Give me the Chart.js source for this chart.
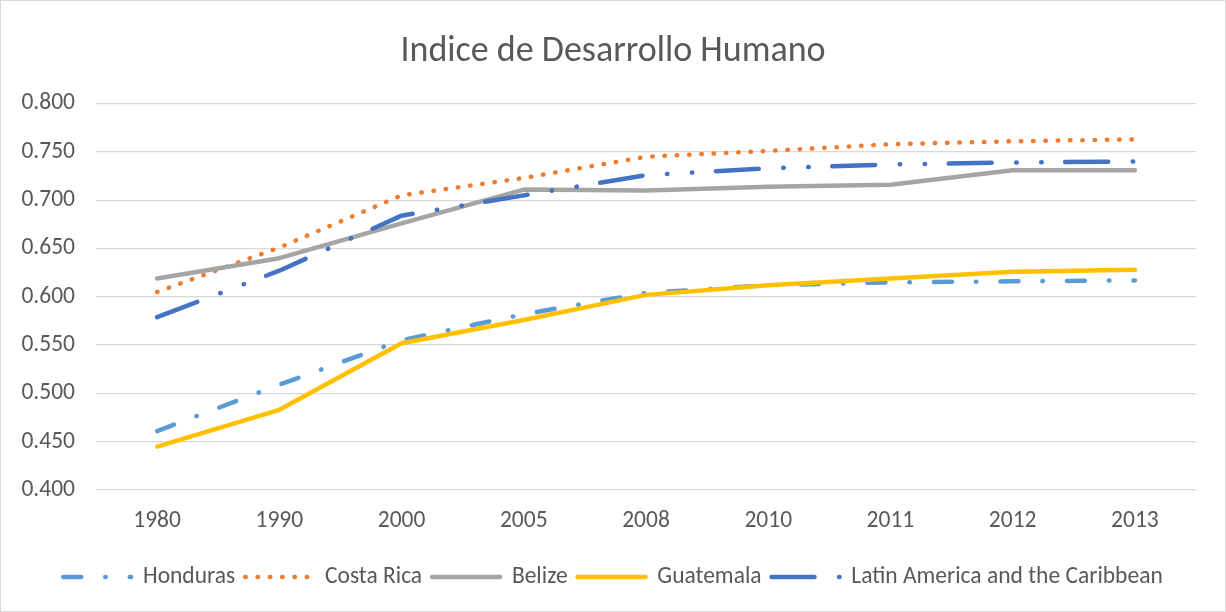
<!DOCTYPE html>
<html>
<head>
<meta charset="utf-8">
<script src="https://cdn.jsdelivr.net/npm/chart.js@4/dist/chart.umd.min.js"></script>
<style>
  html, body { margin: 0; padding: 0; background: #fff; }
  #wrap { width: 1226px; height: 612px; }
</style>
</head>
<body>
<div id="wrap"><canvas id="hdi" width="1226" height="612"></canvas></div>
<script>
const years = ['1980', '1990', '2000', '2005', '2008', '2010', '2011', '2012', '2013']

const honduras = [0.461, 0.509, 0.555, 0.582, 0.604, 0.612, 0.615, 0.616, 0.617]
const costaRica = [0.605, 0.651, 0.705, 0.723, 0.745, 0.751, 0.758, 0.761, 0.763]
const belize = [0.619, 0.640, 0.676, 0.711, 0.710, 0.714, 0.716, 0.731, 0.731]
const guatemala = [0.445, 0.483, 0.552, 0.576, 0.602, 0.612, 0.619, 0.626, 0.628]
const latinAmerica = [0.579, 0.627, 0.684, 0.705, 0.726, 0.733, 0.737, 0.739, 0.740]

const textColor = '#595959'
const gridColor = '#D9D9D9'
const fontFamily = "Carlito, Calibri, Lato, 'Open Sans', sans-serif"

const chartBorder = {
  id: 'chartBorder',
  beforeDraw(chart) {
    const ctx = chart.ctx
    ctx.save()
    ctx.strokeStyle = gridColor
    ctx.lineWidth = 1
    ctx.strokeRect(0.5, 0.5, chart.width - 1, chart.height - 1)
    ctx.restore()
  }
}

function series(label, data, color, dash, order) {
  return {
    label: label,
    data: data,
    borderColor: color,
    backgroundColor: color,
    borderWidth: 4.5,
    borderDash: dash,
    borderCapStyle: 'round',
    borderJoinStyle: 'round',
    pointRadius: 0,
    pointHoverRadius: 0,
    tension: 0,
    fill: false,
    order: order
  }
}

// legend samples take the dash of the line, not of the point
function legendLabels(chart) {
  const items = Chart.defaults.plugins.legend.labels.generateLabels(chart)
  return items.map(item => {
    const ds = chart.data.datasets[item.datasetIndex]
    item.lineDash = ds.borderDash
    item.lineWidth = ds.borderWidth
    item.lineCap = 'round'
    item.strokeStyle = ds.borderColor
    item.fillStyle = ds.borderColor
    return item
  })
}

new Chart(document.getElementById('hdi'), {
  type: 'line',
  data: {
    labels: years,
    datasets: [
      series('Honduras', honduras, '#5B9BD5', [18, 24, 0.5, 24], 5),
      series('Costa Rica', costaRica, '#ED7D31', [0.5, 11.8], 4),
      series('Belize', belize, '#A5A5A5', [], 3),
      series('Guatemala', guatemala, '#FFC000', [], 2),
      series('Latin America and the Caribbean', latinAmerica, '#4472C4', [43, 24.5, 0.5, 24.5, 0.5, 23.5], 1)
    ]
  },
  options: {
    responsive: false,
    animation: false,
    layout: {
      padding: {top: 10, right: 0, bottom: 13.25, left: 0}
    },
    plugins: {
      title: {
        display: true,
        text: 'Indice de Desarrollo Humano',
        color: textColor,
        font: {family: fontFamily, size: 36, weight: 'normal'},
        padding: {top: 20.4, bottom: 30}
      },
      legend: {
        position: 'bottom',
        labels: {
          usePointStyle: true,
          pointStyle: 'line',
          pointStyleWidth: 68,
          color: textColor,
          font: {family: fontFamily, size: 23.5},
          padding: 10,
          generateLabels: legendLabels,
          sort: (a, b) => a.datasetIndex - b.datasetIndex
        }
      },
      tooltip: {enabled: false}
    },
    scales: {
      x: {
        offset: true,
        grid: {display: false, drawTicks: false},
        border: {display: false},
        ticks: {
          color: textColor,
          font: {family: fontFamily, size: 23.5},
          padding: 17,
          maxRotation: 0
        },
        afterFit(scale) { scale.height = 65.25 }
      },
      y: {
        min: 0.4,
        max: 0.8,
        grid: {color: gridColor, lineWidth: 1.3, drawTicks: false},
        border: {display: false},
        ticks: {
          stepSize: 0.05,
          color: textColor,
          font: {family: fontFamily, size: 23.5},
          padding: 21,
          callback: value => value.toFixed(3)
        },
        afterFit(scale) { scale.width = 96 }
      },
      // empty right margin so title and legend stay centred on the page
      yRight: {
        type: 'linear',
        position: 'right',
        min: 0.4,
        max: 0.8,
        grid: {display: false, drawTicks: false},
        border: {display: false},
        ticks: {display: false},
        afterFit(scale) { scale.width = 30 }
      }
    }
  },
  plugins: [chartBorder]
})
</script>
</body>
</html>
